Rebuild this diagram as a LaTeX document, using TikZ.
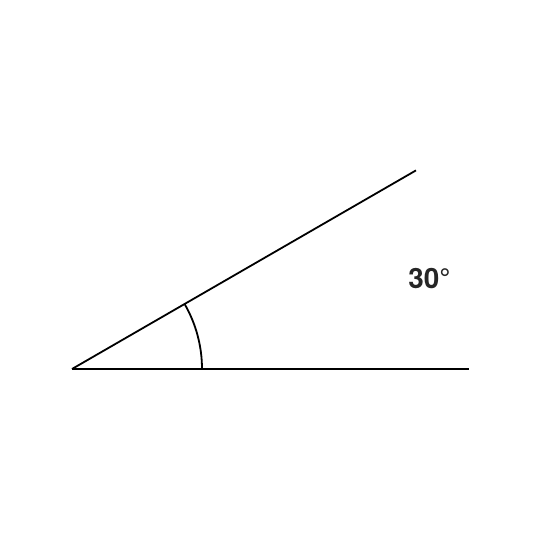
\documentclass[tikz,border=0pt]{standalone}
\usepackage{fontspec}
\setmainfont{TeX Gyre Heros}
\begin{document}
\begin{tikzpicture}[x=1bp,y=1bp,line width=1.8bp,
  ray/.style={draw=black,line cap=butt},
  lbl/.style={font=\fontsize{28}{32}\selectfont\bfseries,text=black!85}]
\useasboundingbox (0,0) rectangle (540,540);
\coordinate (V) at (72,171);
\coordinate (H) at (469,171);
\coordinate (U) at (416,369.6);
\draw[ray] (V) -- (H);
\draw[ray] (V) -- (U);
\draw[ray] ([shift={(0:130)}]V) arc[start angle=0,end angle=30,radius=130];
\node[lbl] (a) at (429.5,261) {30°};
\end{tikzpicture}
\end{document}
